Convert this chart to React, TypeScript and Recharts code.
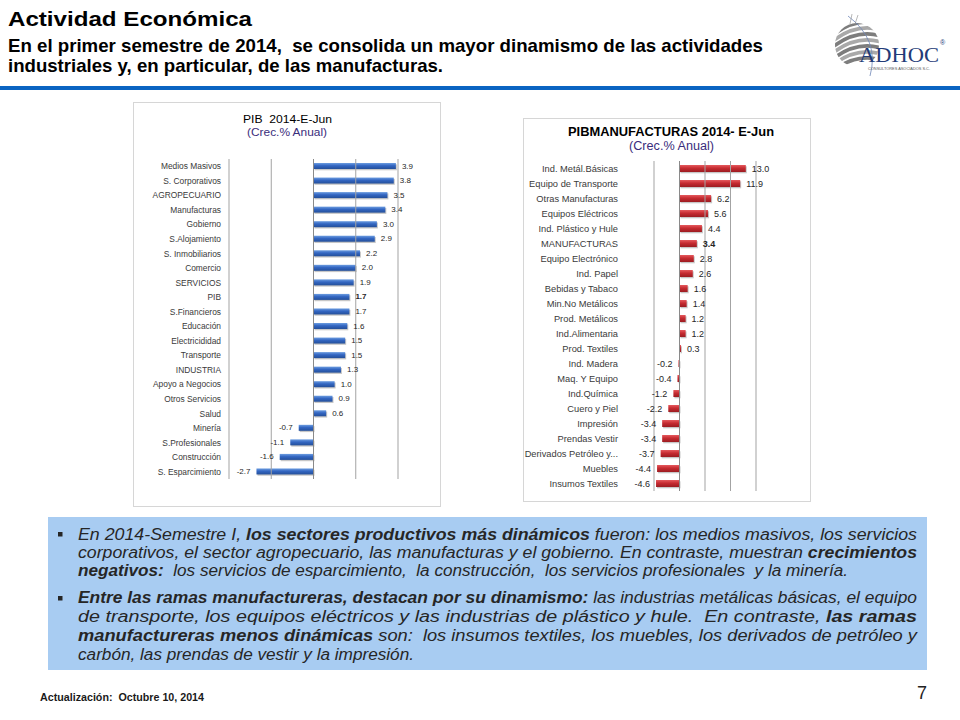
import React from 'react';
import { BarChart, Bar, XAxis, YAxis, ReferenceLine, LabelList } from 'recharts';

// ---------- Data ----------
const pibCategories = [
  'Medios Masivos', 'S. Corporativos', 'AGROPECUARIO', 'Manufacturas', 'Gobierno',
  'S.Alojamiento', 'S. Inmobiliarios', 'Comercio', 'SERVICIOS', 'PIB', 'S.Financieros',
  'Educación', 'Electricididad ', 'Transporte', 'INDUSTRIA', 'Apoyo a Negocios',
  'Otros Servicios', 'Salud', 'Minería', 'S.Profesionales', 'Construcción', 'S. Esparcimiento',
];
const pibValues = [3.9, 3.8, 3.5, 3.4, 3.0, 2.9, 2.2, 2.0, 1.9, 1.7, 1.7, 1.6, 1.5, 1.5, 1.3, 1.0, 0.9, 0.6, -0.7, -1.1, -1.6, -2.7];
const pibTicks = [-4, -2, 0, 2, 4];
const pibHighlight = 'PIB';

const manCategories = [
  'Ind. Metál.Básicas', 'Equipo de Transporte', 'Otras Manufacturas', 'Equipos Eléctricos',
  'Ind. Plástico y Hule', 'MANUFACTURAS', 'Equipo Electrónico', 'Ind. Papel', 'Bebidas y Tabaco',
  'Min.No Metálicos', 'Prod. Metálicos', 'Ind.Alimentaria', 'Prod. Textiles', 'Ind. Madera',
  'Maq. Y Equipo', 'Ind.Química', 'Cuero y Piel', 'Impresión', 'Prendas Vestir',
  'Derivados Petróleo y...', 'Muebles', 'Insumos Textiles',
];
const manValues = [13.0, 11.9, 6.2, 5.6, 4.4, 3.4, 2.8, 2.6, 1.6, 1.4, 1.2, 1.2, 0.3, -0.2, -0.4, -1.2, -2.2, -3.4, -3.4, -3.7, -4.4, -4.6];
const manTicks = [-5, 0, 5, 10, 15];
const manHighlight = 'MANUFACTURAS';

const pibData = pibCategories.map((name, i) => ({ name, value: pibValues[i] }));
const manData = manCategories.map((name, i) => ({ name, value: manValues[i] }));

const SANS = "'Liberation Sans', Arial, sans-serif";

type ChartProps = {
  data: { name: string; value: number }[];
  width: number;
  height: number;
  margin: { top: number; right: number; bottom: number; left: number };
  yAxisWidth: number;
  labelGap: number;
  ticks: number[];
  barSize: number;
  gradId: string;
  stops: string[];
  catFont: number;
  valFont: number;
  highlight: string;
};

function HBarChart(p: ChartProps) {
  const domain = [p.ticks[0], p.ticks[p.ticks.length - 1]];
  const labelX = p.margin.left + p.yAxisWidth - p.labelGap;

  const CatTick = (tp: any) => (
    <text
      x={labelX}
      y={tp.y}
      textAnchor="end"
      dominantBaseline="central"
      fontSize={p.catFont}
      fontFamily={SANS}
      fill="#3a3a3a"
    >
      {tp.payload.value}
    </text>
  );

  const ValueLabel = (lp: any) => {
    const x = Number(lp.x);
    const w = Number(lp.width);
    const y = Number(lp.y);
    const h = Number(lp.height);
    const v = Number(lp.value);
    const end = x + w;
    const pos = v >= 0;
    const bold = p.data[lp.index] && p.data[lp.index].name === p.highlight;
    return (
      <text
        x={pos ? end + 6 : end - 6}
        y={y + h / 2}
        textAnchor={pos ? 'start' : 'end'}
        dominantBaseline="central"
        fontSize={p.valFont}
        fontFamily={SANS}
        fontWeight={bold ? 'bold' : 'normal'}
        fill="#262626"
      >
        {v.toFixed(1)}
      </text>
    );
  };

  const BarShape = (sp: any) => {
    const x = Number(sp.x);
    const w = Number(sp.width);
    const y = Number(sp.y);
    const h = Number(sp.height);
    const x0 = Math.min(x, x + w);
    const aw = Math.abs(w);
    return (
      <g>
        <rect x={x0 + 1} y={y + 1.3} width={aw} height={h} fill="rgba(0,0,0,0.22)" />
        <rect x={x0} y={y} width={aw} height={h} fill={`url(#${p.gradId})`} />
      </g>
    );
  };

  return (
    <BarChart
      layout="vertical"
      width={p.width}
      height={p.height}
      data={p.data}
      margin={p.margin}
      barCategoryGap={0}
    >
      <defs>
        <linearGradient id={p.gradId} x1="0" y1="0" x2="0" y2="1">
          <stop offset="0%" stopColor={p.stops[0]} />
          <stop offset="45%" stopColor={p.stops[1]} />
          <stop offset="100%" stopColor={p.stops[2]} />
        </linearGradient>
      </defs>
      <XAxis type="number" domain={domain} ticks={p.ticks} hide allowDataOverflow />
      <YAxis
        type="category"
        dataKey="name"
        width={p.yAxisWidth}
        axisLine={false}
        tickLine={false}
        interval={0}
        tick={CatTick}
      />
      {p.ticks.filter((t) => t !== 0).map((t) => (
        <ReferenceLine key={t} x={t} stroke="#a3a3a3" strokeWidth={1} />
      ))}
      <ReferenceLine x={0} stroke="#8a8a8a" strokeWidth={1} />
      <Bar dataKey="value" barSize={p.barSize} isAnimationActive={false} shape={BarShape}>
        <LabelList dataKey="value" content={ValueLabel} />
      </Bar>
    </BarChart>
  );
}

const B = (props: { children: React.ReactNode }) => <tspan fontWeight="bold">{props.children}</tspan>;

function BodyLine(props: { y: number; width: number; children: React.ReactNode }) {
  return (
    <text
      x={78}
      y={props.y}
      textLength={props.width}
      lengthAdjust="spacingAndGlyphs"
      fontFamily={SANS}
      fontStyle="italic"
      fontSize={16.8}
      fill="#262626"
      style={{ whiteSpace: 'pre' }}
    >
      {props.children}
    </text>
  );
}

function Logo() {
  const stripes = [-18, -12, -6, 0, 6, 12, 18];
  return (
    <g>
      <defs>
        <clipPath id="sphereClip">
          <circle cx={857} cy={45} r={22} />
        </clipPath>
      </defs>
      <g clipPath="url(#sphereClip)">
        {stripes.map((o, i) => (
          <path
            key={i}
            d={`M ${830} ${45 + o + 10} Q ${857} ${45 + o - 12} ${884} ${45 + o - 2}`}
            stroke={i % 2 === 0 ? '#7d7d7d' : '#a9a9a9'}
            strokeWidth={3.6}
            fill="none"
          />
        ))}
      </g>
      <path d="M 848 16 Q 880 40 870 76" stroke="#6f86b8" strokeWidth={0.8} fill="none" />
      <path d="M 852 14 L 850 24" stroke="#888" strokeWidth={0.6} />
      <path d="M 858 15 L 855 24" stroke="#888" strokeWidth={0.6} />
      <text x={859} y={62} fontFamily="'Liberation Serif', serif" fontSize={22} fill="#233b78" textLength={80} lengthAdjust="spacingAndGlyphs">
        ADHOC
      </text>
      <text x={940} y={45} fontFamily={SANS} fontSize={7} fill="#233b78">®</text>
      <text x={868} y={70} fontFamily={SANS} fontSize={3.6} fill="#555" textLength={62} lengthAdjust="spacingAndGlyphs">
        CONSULTORES ASOCIADOS S.C.
      </text>
    </g>
  );
}

export default function App() {
  return (
    <div style={{ position: 'absolute', left: 0, top: 0, width: 960, height: 720, background: '#ffffff', overflow: 'hidden' }}>
      <svg width={960} height={720} style={{ position: 'absolute', left: 0, top: 0 }}>
        {/* Header */}
        <text x={8} y={26} fontFamily={SANS} fontWeight="bold" fontSize={19.5} fill="#000" textLength={244} lengthAdjust="spacingAndGlyphs">
          Actividad Económica
        </text>
        <text x={8} y={52} fontFamily={SANS} fontWeight="bold" fontSize={18.5} fill="#000" textLength={755} lengthAdjust="spacingAndGlyphs" style={{ whiteSpace: 'pre' }}>
          En el primer semestre de 2014,  se consolida un mayor dinamismo de las actividades
        </text>
        <text x={8} y={72} fontFamily={SANS} fontWeight="bold" fontSize={18.5} fill="#000" textLength={435} lengthAdjust="spacingAndGlyphs">
          industriales y, en particular, de las manufacturas.
        </text>
        <Logo />
        <rect x={0} y={86} width={960} height={4} fill="#0a64c2" />

        {/* Chart frames */}
        <rect x={133.5} y={102.5} width={307} height={404} fill="#fff" stroke="#d6d6d6" />
        <rect x={523.5} y={118.5} width={287} height={383} fill="#fff" stroke="#d6d6d6" />

        {/* Chart titles */}
        <text x={287.5} y={122.5} textAnchor="middle" fontFamily={SANS} fontSize={11.5} fill="#000" textLength={89} lengthAdjust="spacingAndGlyphs" style={{ whiteSpace: 'pre' }}>
          PIB  2014-E-Jun
        </text>
        <text x={287} y={135.5} textAnchor="middle" fontFamily={SANS} fontSize={11} fill="#3a2d7c" textLength={80} lengthAdjust="spacingAndGlyphs">
          (Crec.% Anual)
        </text>
        <text x={671} y={136} textAnchor="middle" fontFamily={SANS} fontWeight="bold" fontSize={12.5} fill="#000" textLength={206} lengthAdjust="spacingAndGlyphs">
          PIBMANUFACTURAS 2014- E-Jun
        </text>
        <text x={671.5} y={150} textAnchor="middle" fontFamily={SANS} fontSize={12} fill="#3a2d7c" textLength={85} lengthAdjust="spacingAndGlyphs">
          (Crec.% Anual)
        </text>

        {/* Text box */}
        <rect x={48} y={517} width={879} height={153} fill="#a8ccf2" />
        <rect x={58} y={532} width={4.5} height={4.5} fill="#262626" />
        <rect x={58} y={596} width={4.5} height={4.5} fill="#262626" />
        <BodyLine y={540} width={839}>
          En 2014-Semestre I, <B>los sectores productivos más dinámicos</B> fueron: los medios masivos, los servicios
        </BodyLine>
        <BodyLine y={558} width={839}>
          corporativos, el sector agropecuario, las manufacturas y el gobierno. En contraste, muestran <B>crecimientos</B>
        </BodyLine>
        <BodyLine y={576} width={770}>
          <B>negativos:</B>{'  los servicios de esparcimiento,  la construcción,  los servicios profesionales  y la minería.'}
        </BodyLine>
        <BodyLine y={603} width={839}>
          <B>Entre las ramas manufactureras, destacan por su dinamismo:</B> las industrias metálicas básicas, el equipo
        </BodyLine>
        <BodyLine y={622} width={839}>
          {'de transporte, los equipos eléctricos y las industrias de plástico y hule.  En contraste, '}<B>las ramas</B>
        </BodyLine>
        <BodyLine y={641} width={839}>
          <B>manufactureras menos dinámicas</B>{' son:  los insumos textiles, los muebles, los derivados de petróleo y'}
        </BodyLine>
        <BodyLine y={660} width={336}>
          carbón, las prendas de vestir y la impresión.
        </BodyLine>

        {/* Footer */}
        <text x={40} y={701} fontFamily={SANS} fontWeight="bold" fontSize={10} fill="#1a1a1a" textLength={164} lengthAdjust="spacingAndGlyphs" style={{ whiteSpace: 'pre' }}>
          Actualización:  Octubre 10, 2014
        </text>
        <text x={917} y={699} fontFamily={SANS} fontSize={18} fill="#222">7</text>
      </svg>

      <div style={{ position: 'absolute', left: 133, top: 102 }}>
        <HBarChart
          data={pibData}
          width={308}
          height={405}
          margin={{ top: 57, right: 43, bottom: 28, left: 0 }}
          yAxisWidth={96}
          labelGap={8}
          ticks={pibTicks}
          barSize={6}
          gradId="gradBlue"
          stops={['#6d9de0', '#3366c2', '#244f99']}
          catFont={8.4}
          valFont={8}
          highlight={pibHighlight}
        />
      </div>
      <div style={{ position: 'absolute', left: 523, top: 118 }}>
        <HBarChart
          data={manData}
          width={288}
          height={384}
          margin={{ top: 43, right: 55, bottom: 11, left: 0 }}
          yAxisWidth={131}
          labelGap={36}
          ticks={manTicks}
          barSize={7}
          gradId="gradRed"
          stops={['#e55a5e', '#c62b31', '#9c1c21']}
          catFont={9.3}
          valFont={9}
          highlight={manHighlight}
        />
      </div>
    </div>
  );
}
